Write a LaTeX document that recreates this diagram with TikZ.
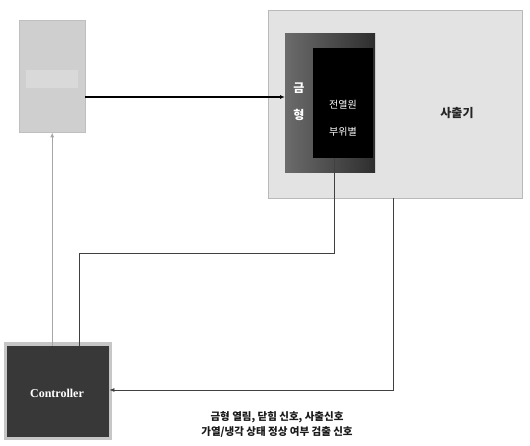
\documentclass[tikz,border=0pt]{standalone}
\usepackage{fontspec}
\newfontfamily\kr{Noto Sans CJK KR}
\newfontfamily\tms{Liberation Serif}
\usetikzlibrary{arrows.meta,calc}
\begin{document}
\begin{tikzpicture}[x=1pt,y=-1pt,
  panel/.style={draw=none,inner sep=0pt,anchor=north west},
  wire/.style={draw=black!75,line width=0.8pt},
  lbl/.style={font=\kr,text=white},
  tip/.style={-{Latex[length=5pt,width=4pt]}}]
\useasboundingbox (0,0) rectangle (530,445);
% top-left box
\node[panel,fill=gray!38,draw=gray!50,minimum width=66pt,minimum height=112pt] (topbox) at (19,20) {};
\fill[gray!30] (26,70) rectangle (78,88);
% machine box
\node[panel,fill=gray!22,draw=gray!55,line width=1pt,minimum width=254pt,minimum height=188pt] (machine) at (268,10) {};
\node[font=\kr\bfseries\fontsize{12}{14}\selectfont,text=black!85] (mlabel) at (457,113) {사출기};
% mold
\node[panel,left color=black!58,right color=black!82,minimum width=90pt,minimum height=139pt] (mold) at (285,33) {};
\node[panel,fill=black,minimum width=60pt,minimum height=110pt] (heater) at (313,48) {};
\node[lbl,font=\kr\bfseries\fontsize{12}{14}\selectfont] (g1) at (299,88) {금};
\node[lbl,font=\kr\bfseries\fontsize{12}{14}\selectfont] (g2) at (299,115) {형};
\node[lbl,font=\kr\fontsize{10}{12}\selectfont] (h1) at (343,105) {전열원};
\node[lbl,font=\kr\fontsize{10}{12}\selectfont] (h2) at (343,132) {부위별};
% controller
\fill[gray!45] (4,342) rectangle (112,440);
\node[panel,fill=black!78,minimum width=102pt,minimum height=91pt] (ctrl) at (7,346) {};
\node[font=\tms\bfseries\fontsize{12}{14}\selectfont,text=white] (clabel) at (57,393) {Controller};
% bottom text
\node[font=\kr\bfseries\fontsize{10.5}{15}\selectfont,align=center,text=black!90] (note) at (277,424) {금형 열림, 닫힘 신호, 사출신호\\가열/냉각 상태 정상 여부 검출 신호};
% coordinates
\coordinate (a1) at (topbox.east |- 0,97);
\coordinate (a2) at (mold.west |- 0,97);
\coordinate (b1) at (334,158);
\coordinate (b2) at (79,253);
\coordinate (c1) at (393,198);
\coordinate (c2) at (393,390);
\coordinate (c3) at (ctrl.east |- 0,390);
% connectors
\draw[line width=2pt,black,tip] (a1) -- (a2);
\draw[gray!70,line width=1pt,tip] (topbox.south |- ctrl.north) -- (topbox.south);
\draw[wire] (b1) |- (b2) -- (b2 |- ctrl.north);
\draw[wire,tip] (c1) -- (c2) -- (c3);
\end{tikzpicture}
\end{document}
